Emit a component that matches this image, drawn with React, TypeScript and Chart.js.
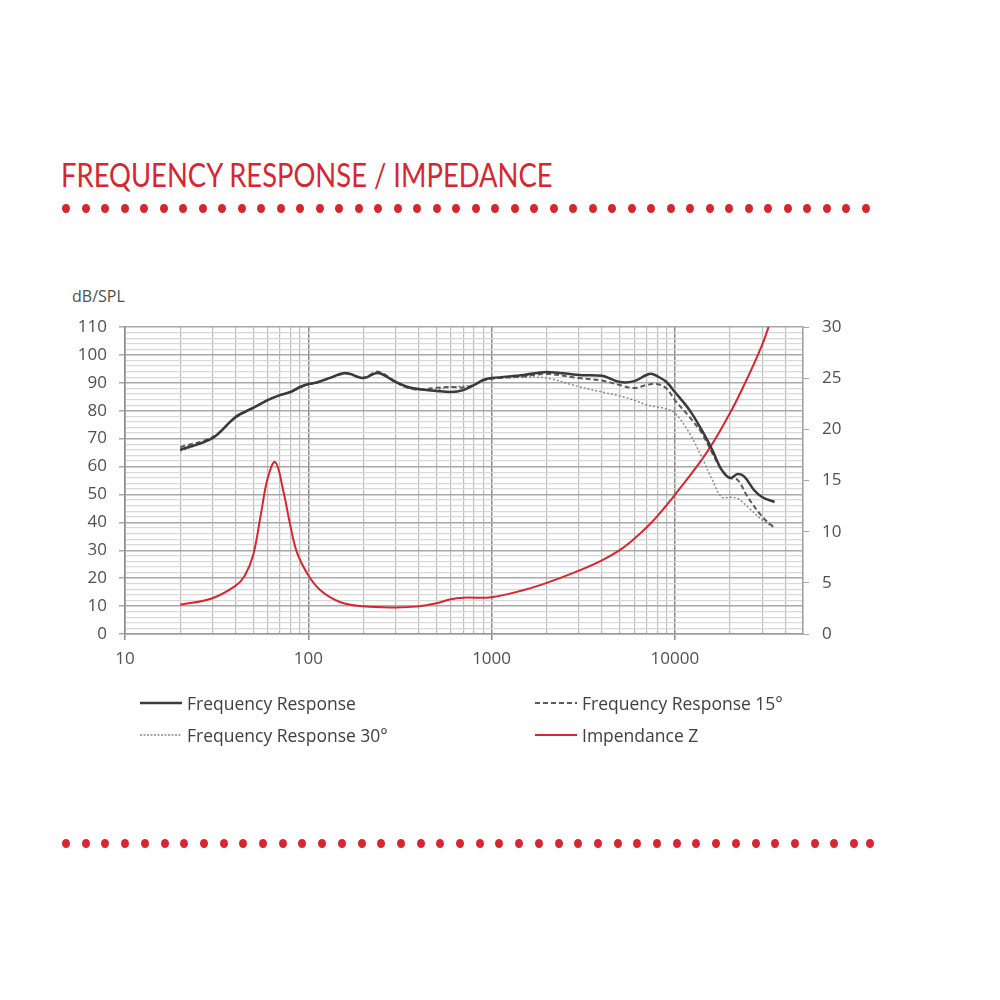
import React, { useEffect, useRef } from "react";
import { Chart, registerables } from "chart.js";

Chart.register(...registerables);

// ---- Data ----
const frFreq = [20, 30, 40, 50, 60, 70, 80, 90, 100, 110, 130, 160, 200, 240, 300, 350, 400, 500, 600, 700, 800, 900, 1000, 1500, 2000, 3000, 4000, 5000, 6000, 7000, 7500, 8000, 9000, 10000, 12000, 14000, 16000, 18000, 20000, 22000, 24000, 27000, 30000, 35000];
const frSpl = [66, 70.2, 77.7, 81, 83.8, 85.6, 86.7, 88.5, 89.6, 90, 91.7, 93.5, 91.7, 93.5, 90.3, 88.5, 87.8, 87.1, 86.7, 87.4, 89.2, 91, 91.7, 92.8, 93.9, 92.8, 92.5, 90.3, 90.6, 92.8, 93.2, 92.4, 90.3, 86.7, 80.3, 73.1, 65.9, 58.8, 55.9, 57.3, 56.3, 51.6, 49, 47.3];

const fr15Freq = [20, 30, 40, 50, 60, 70, 80, 90, 100, 110, 130, 160, 200, 240, 300, 350, 400, 500, 600, 700, 800, 900, 1000, 1500, 2000, 3000, 4000, 5000, 6000, 7000, 8000, 9000, 10000, 12000, 14000, 16000, 18000, 20000, 22000, 25000, 30000, 35000];
const fr15Spl = [67, 70.5, 77.5, 81, 83.8, 85.6, 86.7, 88.3, 89.5, 90, 91.6, 93.3, 91.8, 94, 90.3, 88.2, 87.6, 88.2, 88.5, 88.3, 89.2, 90.8, 91.5, 92.3, 93.2, 91.7, 90.8, 89.2, 88.1, 89.2, 89.6, 88, 83.8, 77.8, 72, 64.8, 58.8, 55.9, 55.2, 49, 42, 38];

const fr30Freq = [20, 30, 40, 50, 60, 70, 80, 90, 100, 110, 130, 160, 200, 240, 300, 350, 400, 500, 600, 700, 800, 900, 1000, 1500, 2000, 3000, 4000, 5000, 6000, 7000, 8000, 9000, 10000, 12000, 14000, 16000, 18000, 20000, 22000, 25000, 30000, 35000];
const fr30Spl = [65.5, 70.3, 77.8, 81.2, 83.8, 85.6, 86.8, 88.4, 89.4, 90, 91.6, 93.2, 91.8, 93.8, 90, 88, 87.5, 87.6, 88.5, 88.8, 89.2, 90.8, 91.5, 92, 91.7, 88.6, 86.7, 85.3, 83.8, 82.1, 81.4, 80.6, 79.2, 72, 63.4, 55.2, 49, 49, 48.6, 45.5, 40.8, 38];

const zFreq = [20, 30, 40, 45, 50, 55, 60, 66, 73, 80, 87, 98, 116, 150, 200, 300, 400, 500, 600, 700, 1000, 1500, 2000, 3000, 4000, 5000, 6000, 7000, 8000, 10000, 15000, 20000, 25000, 30000, 33000];
const zOhm = [2.85, 3.5, 4.7, 5.7, 7.7, 11.6, 15.2, 16.8, 14, 10.5, 7.9, 6.0, 4.3, 3.1, 2.7, 2.6, 2.7, 3.0, 3.4, 3.55, 3.6, 4.3, 5.0, 6.2, 7.2, 8.2, 9.3, 10.4, 11.5, 13.6, 17.8, 21.6, 25.1, 28.3, 30.4];

const xMin = 10;
const xMax = 50000;
const xLabels = [10, 100, 1000, 10000];
const splMax = 110;
const splStep = 2;
const splLabelStep = 10;
const ohmMax = 30;
const ohmStep = 5;

const RED = "#d7262f";
const FONT = "'Open Sans', sans-serif";

function pts(xs: number[], ys: number[]) {
  return xs.map((x, i) => ({ x, y: ys[i] }));
}

function isDecade(v: number) {
  const l = Math.log10(v);
  return Math.abs(l - Math.round(l)) < 1e-9;
}

function ChartCanvas() {
  const ref = useRef<HTMLCanvasElement | null>(null);
  useEffect(() => {
    if (!ref.current) return;
    const chart = new Chart(ref.current, {
      type: "line",
      data: {
        datasets: [
          {
            label: "Frequency Response",
            data: pts(frFreq, frSpl),
            borderColor: "#3a3a3a",
            borderWidth: 2.5,
            pointRadius: 0,
            tension: 0.35,
            yAxisID: "y",
          },
          {
            label: "Frequency Response 15°",
            data: pts(fr15Freq, fr15Spl),
            borderColor: "#5a5a5a",
            borderWidth: 2,
            borderDash: [5, 3],
            pointRadius: 0,
            tension: 0.35,
            yAxisID: "y",
          },
          {
            label: "Frequency Response 30°",
            data: pts(fr30Freq, fr30Spl),
            borderColor: "#8a8a8a",
            borderWidth: 1.5,
            borderDash: [2, 2],
            pointRadius: 0,
            tension: 0.35,
            yAxisID: "y",
          },
          {
            label: "Impendance Z",
            data: pts(zFreq, zOhm),
            borderColor: RED,
            borderWidth: 2,
            pointRadius: 0,
            tension: 0.4,
            yAxisID: "y1",
          },
        ],
      },
      options: {
        responsive: false,
        animation: false,
        events: [],
        layout: { padding: { left: 0, right: 0, top: 327, bottom: 300 } },
        plugins: { legend: { display: false }, tooltip: { enabled: false } },
        scales: {
          x: {
            type: "logarithmic",
            min: xMin,
            max: xMax,
            afterBuildTicks: (scale: any) => {
              const t: any[] = [];
              for (let e = 1; e <= 4; e++) {
                const base = Math.pow(10, e);
                for (let m = 1; m <= 9; m++) {
                  const v = m * base;
                  if (v >= xMin && v <= xMax) t.push({ value: v });
                }
              }
              scale.ticks = t;
            },
            afterFit: (scale: any) => {
              scale.height = 66;
            },
            ticks: {
              autoSkip: false,
              maxRotation: 0,
              padding: 9,
              color: "#505050",
              font: { family: FONT, size: 17 },
              callback: (v: any) => (xLabels.includes(Number(v)) ? String(v) : ""),
            },
            grid: {
              color: (c: any) => (c.tick && isDecade(c.tick.value) ? "#8c8c8c" : "#bdbdbd"),
              lineWidth: (c: any) => (c.tick && isDecade(c.tick.value) ? 1.5 : 1.2),
              tickColor: (c: any) => (c.tick && isDecade(c.tick.value) ? "#8c8c8c" : "rgba(0,0,0,0)"),
              tickLength: 6,
            },
            border: { color: "#9a9a9a", width: 1.5 },
          },
          y: {
            type: "linear",
            position: "left",
            min: 0,
            max: splMax,
            afterBuildTicks: (scale: any) => {
              const t: any[] = [];
              for (let v = 0; v <= splMax; v += splStep) t.push({ value: v });
              scale.ticks = t;
            },
            afterFit: (scale: any) => {
              scale.width = 125;
            },
            ticks: {
              autoSkip: false,
              padding: 12,
              color: "#505050",
              font: { family: FONT, size: 17 },
              callback: (v: any) => (Number(v) % splLabelStep === 0 ? String(v) : ""),
            },
            grid: {
              color: (c: any) => (c.tick && c.tick.value % splLabelStep === 0 ? "#a8a8a8" : "#d8d8d8"),
              lineWidth: (c: any) => (c.tick && c.tick.value % splLabelStep === 0 ? 1.5 : 1.2),
              tickColor: (c: any) => (c.tick && c.tick.value % splLabelStep === 0 ? "#a8a8a8" : "rgba(0,0,0,0)"),
              tickLength: 6,
            },
            border: { color: "#8c8c8c", width: 1.5 },
          },
          y1: {
            type: "linear",
            position: "right",
            min: 0,
            max: ohmMax,
            afterBuildTicks: (scale: any) => {
              const t: any[] = [];
              for (let v = 0; v <= ohmMax; v += ohmStep) t.push({ value: v });
              scale.ticks = t;
            },
            afterFit: (scale: any) => {
              scale.width = 197;
            },
            ticks: {
              padding: 13,
              color: "#505050",
              font: { family: FONT, size: 17 },
            },
            grid: {
              drawOnChartArea: false,
              tickColor: "#a8a8a8",
              tickLength: 6,
            },
            border: { color: "#a0a0a0", width: 1.5 },
          },
        },
      },
    } as any);
    return () => chart.destroy();
  }, []);
  return (
    <canvas
      ref={ref}
      width={1000}
      height={1000}
      style={{ position: "absolute", left: 0, top: 0, width: 1000, height: 1000 }}
    />
  );
}

function Dots({ top, left, count, gap }: { top: number; left: number; count: number; gap: number }) {
  const items = [];
  for (let i = 0; i < count; i++) {
    items.push(
      <div
        key={i}
        style={{
          position: "absolute",
          left: left + i * gap - 4,
          top: top - 4.5,
          width: 8,
          height: 9,
          borderRadius: "50%",
          background: RED,
        }}
      />
    );
  }
  return <>{items}</>;
}

function LegendItem({ x, y, label, color, dash, width }: { x: number; y: number; label: string; color: string; dash: string; width: number }) {
  return (
    <div style={{ position: "absolute", left: x, top: y - 12, height: 24, display: "flex", alignItems: "center", whiteSpace: "nowrap" }}>
      <svg width={44} height={10} style={{ display: "block" }}>
        <line x1={0} y1={5} x2={42} y2={5} stroke={color} strokeWidth={width} strokeDasharray={dash} />
      </svg>
      <span style={{ fontFamily: FONT, fontSize: 17.5, color: "#404040", marginLeft: 3 }}>{label}</span>
    </div>
  );
}

export default function App() {
  return (
    <div style={{ position: "absolute", left: 0, top: 0, width: 1000, height: 1000, background: "#fff", overflow: "hidden" }}>
      <div
        style={{
          position: "absolute",
          left: 61,
          top: 154,
          fontFamily: "Lato, sans-serif",
          fontSize: 33,
          color: RED,
          whiteSpace: "nowrap",
          transformOrigin: "left top",
          transform: "scaleX(0.83)",
        }}
      >
        FREQUENCY RESPONSE / IMPEDANCE
      </div>
      <Dots top={208} left={66} count={42} gap={19.5} />
      <div style={{ position: "absolute", left: 72, top: 285, fontFamily: FONT, fontSize: 16, color: "#505050" }}>dB/SPL</div>
      <ChartCanvas />
      <LegendItem x={140} y={703} label="Frequency Response" color="#3a3a3a" dash="" width={2.5} />
      <LegendItem x={535} y={703} label="Frequency Response 15°" color="#5a5a5a" dash="5 3" width={2} />
      <LegendItem x={140} y={735} label="Frequency Response 30°" color="#8a8a8a" dash="2 1.5" width={1.5} />
      <LegendItem x={535} y={735} label="Impendance Z" color={RED} dash="" width={2} />
      <Dots top={843} left={66} count={41} gap={19.7} />
      <Dots top={843} left={870} count={1} gap={19.7} />
    </div>
  );
}
